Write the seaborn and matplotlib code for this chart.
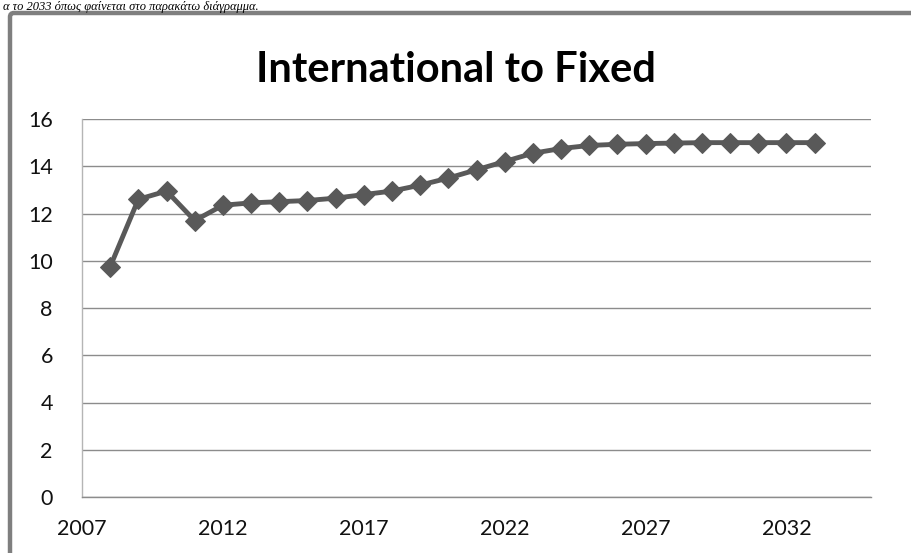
import matplotlib
matplotlib.use("Agg")
import matplotlib.pyplot as plt
import seaborn as sns
import pandas as pd
from matplotlib.patches import FancyBboxPatch

# data
years = list(range(2008, 2034))
values = [9.75, 12.6, 12.95, 11.7, 12.35, 12.45, 12.5, 12.55, 12.65, 12.8,
          12.95, 13.2, 13.5, 13.85, 14.2, 14.55, 14.75, 14.88, 14.93, 14.96,
          14.98, 15.0, 15.0, 15.0, 15.0, 15.0]
x_ticks = [2007, 2012, 2017, 2022, 2027, 2032]
y_ticks = [0, 2, 4, 6, 8, 10, 12, 14, 16]
title = "International to Fixed"
caption = "α το 2033 όπως φαίνεται στο παρακάτω διάγραμμα."

df = pd.DataFrame({"year": years, "value": values})

sns.set_style("white")
plt.rcParams["font.family"] = ["Lato", "DejaVu Sans"]

fig = plt.figure(figsize=(9.12, 5.53), dpi=100)
ax = fig.add_axes([82 / 912, 1 - 497 / 553, (871 - 82) / 912, (497 - 119) / 553])

sns.lineplot(data=df, x="year", y="value", ax=ax, color="#595959",
             linewidth=3.5, marker="D", markersize=10,
             markeredgecolor="#595959", markerfacecolor="#595959")

ax.set_xlim(2007, 2035)
ax.set_ylim(0, 16)
ax.set_yticks(y_ticks)
ax.set_xticks(x_ticks)
ax.set_xticks(range(2007, 2036), minor=True)
ax.set_xlabel("")
ax.set_ylabel("")

ax.grid(axis="y", color="#8c8c8c", linewidth=1.0)
ax.set_axisbelow(True)

for side in ["top", "right"]:
    ax.spines[side].set_visible(False)
ax.spines["left"].set_color("#b5b5b5")
ax.spines["left"].set_linewidth(1.0)
ax.spines["bottom"].set_color("#8c8c8c")
ax.spines["bottom"].set_linewidth(1.0)

ax.tick_params(axis="y", length=0, pad=21, labelsize=15.5, labelcolor="#111111")
ax.tick_params(axis="x", which="both", direction="in", length=5, width=0.8,
               color="#8c8c8c", pad=16, labelsize=15.5, labelcolor="#111111")

fig.text(0.5, 1 - 70 / 553, title, ha="center", va="center",
         fontsize=30, fontweight="bold", color="#000000")

# outer frame of the embedded chart
frame = FancyBboxPatch((10, -40), 960, 553 - 13 + 40,
                       boxstyle="round,pad=0,rounding_size=4",
                       transform=None, facecolor="none",
                       edgecolor="#7f7f7f", linewidth=3.2)
fig.patches.append(frame)

# caption line above the chart
fig.text(3 / 912, 1 - 1 / 553, caption, ha="left", va="top",
         fontsize=9, style="italic", family=["Liberation Serif", "DejaVu Serif"],
         color="#000000")

fig.savefig("out.png", dpi=100)
